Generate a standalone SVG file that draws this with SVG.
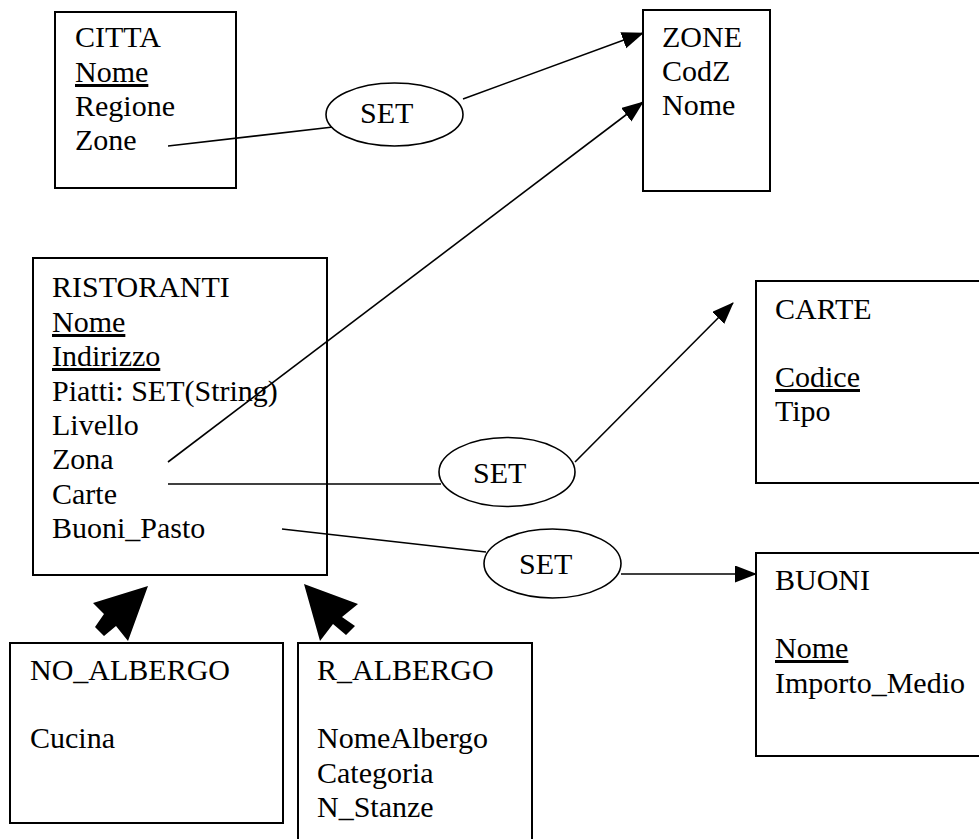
<svg xmlns="http://www.w3.org/2000/svg" width="979" height="839" viewBox="0 0 979 839">
<defs>
<style>
.box{fill:none;stroke:#000;stroke-width:2}
.ell{fill:#fff;stroke:#000;stroke-width:1.6}
.t{font-family:'Liberation Serif','Times New Roman','DejaVu Serif',serif;font-size:30px;fill:#000}
.u{text-decoration:underline}
.ln{stroke:#000;stroke-width:1.6;fill:none}
.blk{fill:#000;stroke:none}
</style>
<marker id="ah" markerUnits="userSpaceOnUse" markerWidth="22" markerHeight="18" refX="21" refY="8.5" orient="auto">
<path d="M0,0 L22,8.5 L0,17 z" fill="#000"/>
</marker>
</defs>
<rect width="979" height="839" fill="#fff"/>

<g id="citta" font-family="Liberation Serif, Times New Roman, serif">
<rect class="box" x="55" y="12" width="181" height="176"/>
<text class="t" x="75" y="47">CITTA</text>
<text class="t u" x="75" y="82">Nome</text>
<text class="t" x="75" y="116">Regione</text>
<text class="t" x="75" y="150">Zone</text>
</g>

<g id="zone">
<rect class="box" x="643" y="10" width="127" height="181"/>
<text class="t" x="662" y="47">ZONE</text>
<text class="t" x="662" y="81">CodZ</text>
<text class="t" x="662" y="115">Nome</text>
</g>

<g id="ristoranti">
<rect class="box" x="33" y="258" width="294" height="317"/>
<text class="t" x="52" y="297">RISTORANTI</text>
<text class="t u" x="52" y="332">Nome</text>
<text class="t u" x="52" y="366">Indirizzo</text>
<text class="t" x="52" y="401">Piatti: SET(String)</text>
<text class="t" x="52" y="435">Livello</text>
<text class="t" x="52" y="469">Zona</text>
<text class="t" x="52" y="504">Carte</text>
<text class="t" x="52" y="538">Buoni_Pasto</text>
</g>

<g id="carte">
<rect class="box" x="756" y="281" width="240" height="202"/>
<text class="t" x="775" y="319">CARTE</text>
<text class="t u" x="775" y="387">Codice</text>
<text class="t" x="775" y="421">Tipo</text>
</g>

<g id="buoni">
<rect class="box" x="756" y="553" width="240" height="203"/>
<text class="t" x="775" y="590">BUONI</text>
<text class="t u" x="775" y="658">Nome</text>
<text class="t" x="775" y="693">Importo_Medio</text>
</g>

<g id="no_albergo">
<rect class="box" x="10" y="643" width="273" height="180"/>
<text class="t" x="30" y="680">NO_ALBERGO</text>
<text class="t" x="30" y="748">Cucina</text>
</g>

<g id="r_albergo">
<rect class="box" x="298" y="643" width="234" height="210"/>
<text class="t" x="317" y="680">R_ALBERGO</text>
<text class="t" x="317" y="748">NomeAlbergo</text>
<text class="t" x="317" y="783">Categoria</text>
<text class="t" x="317" y="817">N_Stanze</text>
</g>

<g id="connectors">
<line class="ln" x1="168" y1="146" x2="333" y2="127"/>
<line class="ln" x1="463" y1="99" x2="643" y2="33" marker-end="url(#ah)"/>
<line class="ln" x1="168" y1="462" x2="643" y2="102" marker-end="url(#ah)"/>
<line class="ln" x1="168" y1="484" x2="441" y2="484"/>
<line class="ln" x1="575" y1="462" x2="733" y2="303" marker-end="url(#ah)"/>
<line class="ln" x1="282" y1="529" x2="486" y2="552"/>
<line class="ln" x1="621" y1="574" x2="756" y2="574" marker-end="url(#ah)"/>
<polygon class="blk" points="148,586 93,603 104,614 95,627 104,636 116,626 128,641"/>
<polygon class="blk" points="304,584 358,604 342,617 355,626 346,635 333,624 320,641"/>
</g>

<g id="set1">
<ellipse class="ell" cx="394.5" cy="114.5" rx="68.5" ry="31.5"/>
<text class="t" x="360" y="123">SET</text>
</g>

<g id="set2">
<ellipse class="ell" cx="507" cy="472" rx="68" ry="34.5"/>
<text class="t" x="473" y="483">SET</text>
</g>

<g id="set3">
<ellipse class="ell" cx="552.5" cy="563.5" rx="68.5" ry="34.5"/>
<text class="t" x="519" y="574">SET</text>
</g>
</svg>
